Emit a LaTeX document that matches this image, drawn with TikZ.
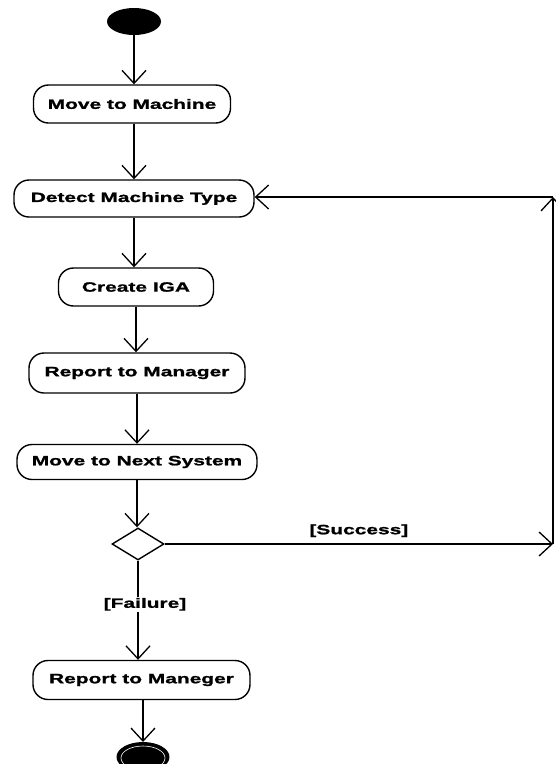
\documentclass[tikz,border=0pt]{standalone}
\usepackage{fontspec}
\setmainfont{Liberation Sans}[FakeStretch=1.55, BoldFeatures={FakeBold=1.3}]
\usetikzlibrary{arrows.meta,shapes.geometric}
\begin{document}
\begin{tikzpicture}[x=1pt,y=-1pt,
  every node/.style={font=\fontsize{13.5}{16}\selectfont\bfseries},
  action/.style={draw, line width=1.4pt, rounded corners=15pt, inner sep=0pt,
                 minimum height=#1},
  action/.default=38pt,
  flow/.style={line width=1.3pt, -{Straight Barb[length=13pt,width=24pt,line width=1.3pt]}},
  guard/.style={fill=white, inner sep=1pt}]
\useasboundingbox (0,0) rectangle (556,764);

% initial and final states
\fill (134,21.5) ellipse [x radius=27, y radius=13.5];
\coordinate (start) at (134,35);

\node[action, minimum width=197pt] (move) at (132,104) {Move to Machine};
\node[action=37pt, minimum width=240pt] (detect) at (134,198.5) {Detect Machine Type};
\node[action, minimum width=155pt] (create) at (136,287) {Create IGA};
\node[action=40pt, minimum width=216pt] (report) at (137,373) {Report to Manager};
\node[action=35pt, minimum width=240pt] (next) at (137,462) {Move to Next System};
\node[draw, diamond, line width=1.4pt, minimum width=52pt, minimum height=32pt,
      inner sep=0pt, font=] (choice) at (138,544) {};
\node[action=39pt, minimum width=217pt] (fail) at (141.5,680) {Report to Maneger};

\fill (143,757) ellipse [x radius=26.5, y radius=15];
\draw[white, line width=0.6pt] (143,758) ellipse [x radius=22, y radius=12];
\coordinate (end) at (143,742);

% main sequence
\draw[flow] (start) -- (start |- move.north);
\draw[flow] (move.south -| detect) -- (detect.north);
\draw[flow] (detect.south) -- (detect.south |- create.north);
\draw[flow] (create.south) -- (create.south |- report.north);
\draw[flow] (report.south) -- (report.south |- next.north);
\draw[flow] (next.south) -- (next.south |- choice.north);
\draw[flow] (choice.south) -- (choice.south |- fail.north)
  node[guard, pos=0.44, xshift=7pt] (failure) {[Failure]};
\draw[flow] (fail.south -| end) -- (end);

% loop back on success
\coordinate (c1) at (553,544);
\coordinate (c2) at (553,197);
\draw[flow] (choice.east) -- (c1)
  node[pos=0.5, above=3pt] (success) {[Success]};
\draw[flow] (c1) -- (c2);
\draw[flow] (c2) -- (c2 -| detect.east);
\end{tikzpicture}
\end{document}
